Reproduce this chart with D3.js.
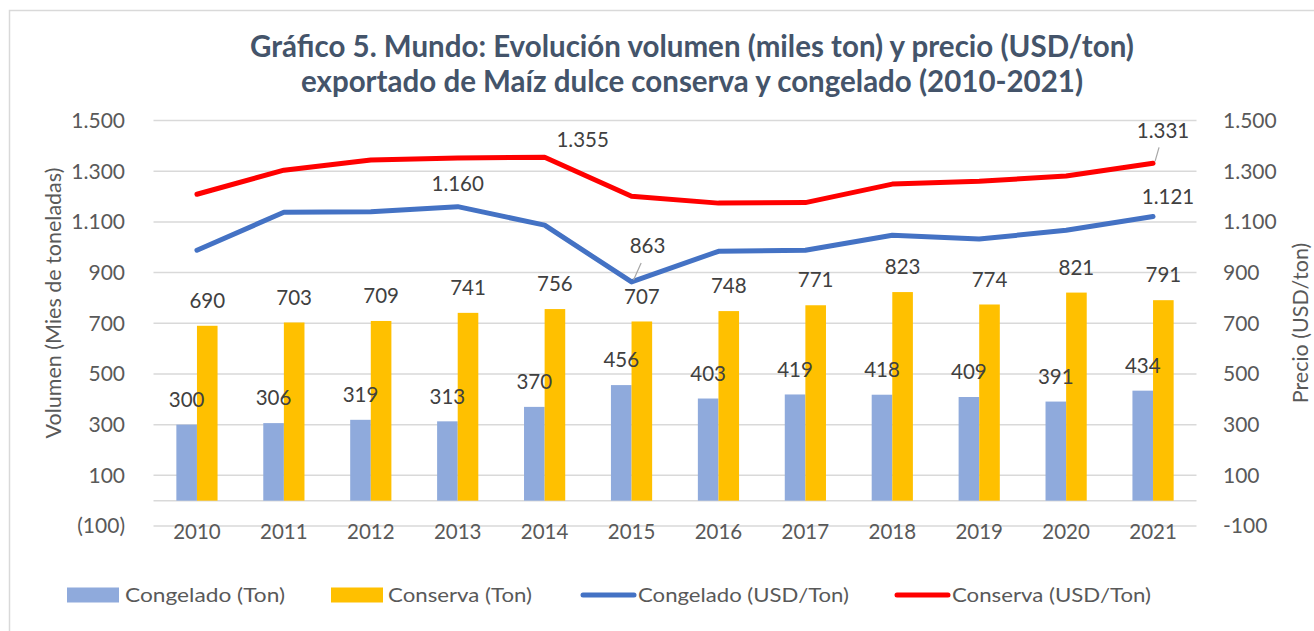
<!DOCTYPE html>
<html>
<head>
<meta charset="utf-8">
<script src="https://cdn.jsdelivr.net/npm/d3@7"></script>
<style>
  body { margin: 0; background: #fff; }
  svg { display: block; font-family: Lato, "Open Sans", sans-serif; }
</style>
</head>
<body>
<svg id="chart" width="1314" height="631"></svg>
<script>
// Data
const years = ["2010", "2011", "2012", "2013", "2014", "2015", "2016", "2017", "2018", "2019", "2020", "2021"];
const congeladoTon = [300, 306, 319, 313, 370, 456, 403, 419, 418, 409, 391, 434];
const conservaTon = [690, 703, 709, 741, 756, 707, 748, 771, 823, 774, 821, 791];
const congeladoUsd = [988, 1138, 1140, 1160, 1087, 863, 984, 988, 1047, 1032, 1067, 1121];
const conservaUsd = [1209, 1304, 1344, 1352, 1355, 1201, 1174, 1176, 1249, 1260, 1281, 1331];
const yTicks = [-100, 100, 300, 500, 700, 900, 1100, 1300, 1500];

const titleLines = [
  "Gráfico 5. Mundo: Evolución volumen (miles ton) y precio (USD/ton)",
  "exportado de Maíz dulce conserva y congelado (2010-2021)"
];

const svg = d3.select("#chart");
const grey = "#595959";
const gridColor = "#d9d9d9";

// chart frame
svg.append("rect")
  .attr("x", 9.5).attr("y", 10.5)
  .attr("width", 1400).attr("height", 700)
  .attr("fill", "#fff")
  .attr("stroke", gridColor).attr("stroke-width", 1.5);

const x = d3.scaleBand().domain(years).range([153.5, 1196.5]);
const y = d3.scaleLinear().domain([-100, 1500]).range([526, 120.5]);
const barW = 20.6;
const cx = d => x(d) + x.bandwidth() / 2;

const thousands = d3.formatLocale({ decimal: ",", thousands: ".", grouping: [3], currency: ["", ""] }).format(",d");
const leftFmt = d => d < 0 ? `(${thousands(-d)})` : thousands(d);
const rightFmt = d => d < 0 ? `-${thousands(-d)}` : thousands(d);

// title
svg.append("g").selectAll("text")
  .data(titleLines)
  .join("text")
  .attr("x", 692)
  .attr("y", (d, i) => 57 + i * 35)
  .attr("text-anchor", "middle")
  .attr("font-size", 29.5)
  .attr("font-weight", "bold")
  .attr("fill", "#44546A")
  .text(d => d);

// gridlines
svg.append("g").selectAll("line")
  .data(yTicks)
  .join("line")
  .attr("x1", 153.5).attr("x2", 1196.5)
  .attr("y1", d => y(d)).attr("y2", d => y(d))
  .attr("stroke", gridColor).attr("stroke-width", 1.5);

// zero line
svg.append("line")
  .attr("x1", 153.5).attr("x2", 1196.5)
  .attr("y1", y(0)).attr("y2", y(0))
  .attr("stroke", gridColor).attr("stroke-width", 1.5);

// left / right tick labels
svg.append("g").selectAll("text")
  .data(yTicks)
  .join("text")
  .attr("x", 125).attr("y", d => y(d))
  .attr("dy", "0.35em")
  .attr("text-anchor", "end")
  .attr("font-size", 21).attr("fill", grey)
  .text(leftFmt);

svg.append("g").selectAll("text")
  .data(yTicks)
  .join("text")
  .attr("x", 1223).attr("y", d => y(d))
  .attr("dy", "0.35em")
  .attr("font-size", 21).attr("fill", grey)
  .text(rightFmt);

// axis titles
svg.append("text")
  .attr("transform", "translate(53,303) rotate(-90)")
  .attr("text-anchor", "middle").attr("dy", "0.35em")
  .attr("font-size", 21.5).attr("fill", grey)
  .text("Volumen (Mies de toneladas)");

svg.append("text")
  .attr("transform", "translate(1300,323) rotate(-90)")
  .attr("text-anchor", "middle").attr("dy", "0.35em")
  .attr("font-size", 21.5).attr("fill", grey)
  .text("Precio (USD/ton)");

// category labels
svg.append("g").selectAll("text")
  .data(years)
  .join("text")
  .attr("x", cx).attr("y", 532)
  .attr("dy", "0.35em")
  .attr("text-anchor", "middle")
  .attr("font-size", 20.5).attr("fill", grey)
  .text(d => d);

// bars
const barSeries = [
  { values: congeladoTon, color: "#8FAADC", offset: -barW },
  { values: conservaTon, color: "#FFC000", offset: 0 }
];

barSeries.forEach(s => {
  svg.append("g").selectAll("rect")
    .data(s.values)
    .join("rect")
    .attr("x", (d, i) => cx(years[i]) + s.offset)
    .attr("y", d => y(d))
    .attr("width", barW)
    .attr("height", d => y(0) - y(d))
    .attr("fill", s.color);
});

// bar labels drawn after all bars so nothing covers them
barSeries.forEach(s => {
  svg.append("g").selectAll("text")
    .data(s.values)
    .join("text")
    .attr("x", (d, i) => cx(years[i]) + s.offset + barW / 2)
    .attr("y", d => y(d) - 25)
    .attr("dy", "0.35em")
    .attr("text-anchor", "middle")
    .attr("font-size", 20.5).attr("fill", "#404040")
    .text(d => thousands(d));
});

// price lines
const lineSeries = [
  { values: congeladoUsd, color: "#4472C4" },
  { values: conservaUsd, color: "#FF0000" }
];
const line = d3.line()
  .x((d, i) => cx(years[i]))
  .y(d => y(d));

lineSeries.forEach(s => {
  svg.append("path")
    .datum(s.values)
    .attr("d", line)
    .attr("fill", "none")
    .attr("stroke", s.color)
    .attr("stroke-width", 5)
    .attr("stroke-linejoin", "round")
    .attr("stroke-linecap", "round");
});

// labelled points on the price lines (label placement offsets, leader flag)
const priceLabels = [
  { values: congeladoUsd, i: 3, dx: 0, dy: -23, leader: false },
  { values: congeladoUsd, i: 5, dx: 16, dy: -36, leader: true },
  { values: congeladoUsd, i: 11, dx: 15, dy: -20, leader: false },
  { values: conservaUsd, i: 4, dx: 38, dy: -17, leader: false },
  { values: conservaUsd, i: 11, dx: 10, dy: -33, leader: true }
];

priceLabels.forEach(p => {
  const px = cx(years[p.i]);
  const py = y(p.values[p.i]);
  if (p.leader) {
    svg.append("line")
      .attr("x1", px + 2).attr("y1", py - 2)
      .attr("x2", px + p.dx * 0.6).attr("y2", py + p.dy + 17)
      .attr("stroke", "#a6a6a6").attr("stroke-width", 1.2);
  }
  svg.append("text")
    .attr("x", px + p.dx).attr("y", py + p.dy)
    .attr("dy", "0.35em")
    .attr("text-anchor", "middle")
    .attr("font-size", 20.5).attr("fill", "#404040")
    .text(thousands(p.values[p.i]));
});

// legend
const legendItems = [
  { label: "Congelado (Ton)", color: "#8FAADC", type: "rect", x: 67, tx: 125, tl: 160 },
  { label: "Conserva (Ton)", color: "#FFC000", type: "rect", x: 331, tx: 388, tl: 144 },
  { label: "Congelado (USD/Ton)", color: "#4472C4", type: "line", x: 581, tx: 638, tl: 211 },
  { label: "Conserva (USD/Ton)", color: "#FF0000", type: "line", x: 895, tx: 952, tl: 199 }
];
const legY = 595;
legendItems.forEach(item => {
  if (item.type === "rect") {
    svg.append("rect")
      .attr("x", item.x).attr("y", legY - 7.5)
      .attr("width", 52).attr("height", 15)
      .attr("fill", item.color);
  } else {
    svg.append("line")
      .attr("x1", item.x + 2).attr("x2", item.x + 53)
      .attr("y1", legY).attr("y2", legY)
      .attr("stroke", item.color).attr("stroke-width", 5)
      .attr("stroke-linecap", "round");
  }
  svg.append("text")
    .attr("x", item.tx).attr("y", legY)
    .attr("dy", "0.35em")
    .attr("font-size", 20).attr("fill", grey)
    .attr("textLength", item.tl)
    .attr("lengthAdjust", "spacingAndGlyphs")
    .text(item.label);
});
</script>
</body>
</html>
